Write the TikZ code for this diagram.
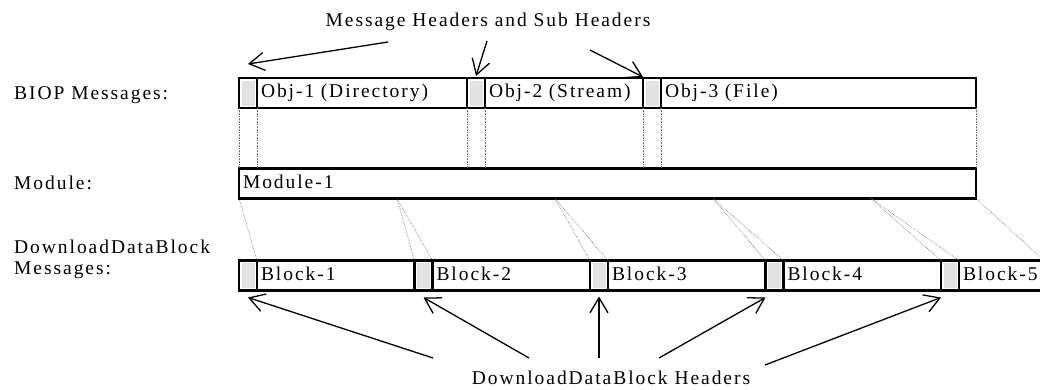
\documentclass[tikz,border=0pt]{standalone}
\usepackage{fontspec}
\setmainfont{Liberation Serif}[LetterSpace=10]
\usetikzlibrary{positioning,calc,arrows.meta}
\definecolor{hdrgray}{RGB}{226,226,226}
\definecolor{mapgray}{RGB}{110,110,110}

\tikzset{
  lbl/.style={font=\fontsize{19.5}{21}\selectfont, inner sep=0pt},
  cell/.style={draw, line width=2.2pt, inner xsep=4pt, inner ysep=0pt, outer sep=0pt,
    minimum height=30pt, text height=13pt, text depth=4pt,
    font=\fontsize{19.5}{21}\selectfont, align=left},
  hdr/.style={cell, minimum width=18pt, inner xsep=0pt,
    path picture={\fill[hdrgray] ([shift={(2.5pt,-2.5pt)}]path picture bounding box.north west)
      rectangle ([shift={(-2.5pt,2.5pt)}]path picture bounding box.south east);}},
  map/.style={mapgray, densely dotted, line width=0.6pt},
  pointer/.style={line width=1.3pt, -{Straight Barb[length=15pt,width=18pt,line width=1.3pt]}},
}

\begin{document}
\begin{tikzpicture}[x=1pt,y=-1pt]
  \useasboundingbox (0,0) rectangle (1040,389);

  % row labels
  \node[lbl, anchor=base west] (biop) at (14,99) {BIOP Messages:};
  \node[lbl, anchor=base west] (modlbl) at (14,189) {Module:};
  \node[lbl, anchor=north west, align=left] (ddblbl) at (14,240) {DownloadDataBlock\\Messages:};

  % BIOP messages
  \node[hdr, anchor=west] (hA1) at (239,93) {};
  \node[cell, right=0pt of hA1, text width=202pt] (objA) {Obj-1 (Directory)};
  \node[hdr, right=0pt of objA] (hA2) {};
  \node[cell, right=0pt of hA2, text width=150pt] (objB) {Obj-2 (Stream)};
  \node[hdr, right=0pt of objB] (hA3) {};
  \node[cell, right=0pt of hA3, text width=307pt] (objC) {Obj-3 (File)};

  % module
  \node[cell, anchor=west, text width=729pt] (mod) at (239,183.5) {Module-1};

  % download data blocks
  \node[hdr, anchor=west] (hB1) at (239,275.5) {};
  \node[cell, right=0pt of hB1, text width=149.5pt] (bB1) {Block-1};
  \foreach \i [count=\j from 2] in {1,...,4} {
    \node[hdr, right=0pt of bB\i] (hB\j) {};
    \node[cell, right=0pt of hB\j, text width=149.5pt] (bB\j) {Block-\j};
  }

  % BIOP -> module
  \foreach \n in {hA1,hA2,hA3} {
    \draw[map] (\n.south west) -- (\n.south west |- mod.north);
    \draw[map] (\n.south east) -- (\n.south east |- mod.north);
  }
  \draw[map] (objC.south east) -- (mod.north east);

  % module -> blocks
  \draw[map] (mod.south west) -- (bB1.north west);
  \foreach \i [count=\j from 2] in {1,...,4} {
    \coordinate (m\i) at ($(mod.south west)+(158*\i,0)$);
    \draw[map] (m\i) -- (hB\j.north west);
    \draw[map] (m\i) -- (hB\j.north east);
  }
  \coordinate (mEnd) at ([xshift=85pt]bB5.north west);
  \draw[map] (mod.south east) -- (mEnd);

  % message headers
  \node[lbl] (msgtxt) at (488,22) {Message Headers and Sub Headers};
  \coordinate (p1) at (388,42);
  \coordinate (p2) at (487,41);
  \coordinate (p3) at (590,50);
  \draw[pointer] (p1) -- ([yshift=14pt]hA1.north);
  \draw[pointer] (p2) -- ([yshift=2pt]hA2.north);
  \draw[pointer] (p3) -- ([yshift=1pt]hA3.north west);

  % block headers
  \node[lbl] (dbhtxt) at (611,378) {DownloadDataBlock Headers};
  \coordinate (q1) at (433,358);
  \coordinate (q2) at (529,358);
  \coordinate (q3) at (599,358);
  \coordinate (q4) at (659,358);
  \coordinate (q5) at (765,365);
  \draw[pointer] (q1) -- ([yshift=-7pt]hB1.south);
  \draw[pointer] (q2) -- ([yshift=-7pt]hB2.south);
  \draw[pointer] (q3) -- ([yshift=-6pt]hB3.south);
  \draw[pointer] (q4) -- ([yshift=-7pt]hB4.south west);
  \draw[pointer] (q5) -- ([yshift=-7pt]hB5.south west);
\end{tikzpicture}
\end{document}
